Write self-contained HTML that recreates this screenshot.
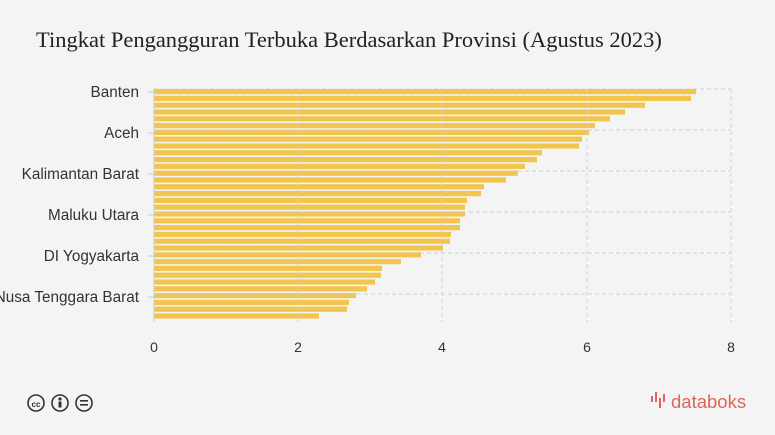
<!DOCTYPE html>
<html><head><meta charset="utf-8"><style>
body{margin:0;background:#f4f4f4;}
svg{display:block}
</style></head><body>
<svg width="775" height="435" xmlns="http://www.w3.org/2000/svg">
<rect width="775" height="435" fill="#f4f4f4"/>
<text x="36" y="47" font-family="Liberation Serif, serif" font-size="22.5" fill="#222">Tingkat Pengangguran Terbuka Berdasarkan Provinsi (Agustus 2023)</text>
<g fill="#f2c54f">
<rect x="154" y="89" width="542" height="5.2"/>
<rect x="154" y="95.8" width="537" height="5.2"/>
<rect x="154" y="102.6" width="491" height="5.2"/>
<rect x="154" y="109.4" width="471" height="5.2"/>
<rect x="154" y="116.2" width="456" height="5.2"/>
<rect x="154" y="123" width="441" height="5.2"/>
<rect x="154" y="129.8" width="435" height="5.2"/>
<rect x="154" y="136.6" width="428" height="5.2"/>
<rect x="154" y="143.4" width="425" height="5.2"/>
<rect x="154" y="150.2" width="388" height="5.2"/>
<rect x="154" y="157" width="383" height="5.2"/>
<rect x="154" y="163.8" width="371" height="5.2"/>
<rect x="154" y="170.6" width="364" height="5.2"/>
<rect x="154" y="177.4" width="352" height="5.2"/>
<rect x="154" y="184.2" width="330" height="5.2"/>
<rect x="154" y="191" width="327" height="5.2"/>
<rect x="154" y="197.8" width="313" height="5.2"/>
<rect x="154" y="204.6" width="311" height="5.2"/>
<rect x="154" y="211.4" width="311" height="5.2"/>
<rect x="154" y="218.2" width="306" height="5.2"/>
<rect x="154" y="225" width="306" height="5.2"/>
<rect x="154" y="231.8" width="297" height="5.2"/>
<rect x="154" y="238.6" width="296" height="5.2"/>
<rect x="154" y="245.4" width="289" height="5.2"/>
<rect x="154" y="252.2" width="267" height="5.2"/>
<rect x="154" y="259" width="247" height="5.2"/>
<rect x="154" y="265.8" width="228" height="5.2"/>
<rect x="154" y="272.6" width="227" height="5.2"/>
<rect x="154" y="279.4" width="221" height="5.2"/>
<rect x="154" y="286.2" width="213" height="5.2"/>
<rect x="154" y="293" width="202" height="5.2"/>
<rect x="154" y="299.8" width="195" height="5.2"/>
<rect x="154" y="306.6" width="193" height="5.2"/>
<rect x="154" y="313.4" width="165" height="5.2"/>
</g>
<g stroke="#d0d0d0" stroke-width="1.2" stroke-dasharray="4,3" fill="none" opacity="0.8">
<line x1="154" y1="89" x2="731" y2="89"/><line x1="154" y1="130" x2="731" y2="130"/>
<line x1="154" y1="171" x2="731" y2="171"/><line x1="154" y1="212" x2="731" y2="212"/>
<line x1="154" y1="253" x2="731" y2="253"/><line x1="154" y1="294" x2="731" y2="294"/>
<line x1="298" y1="89" x2="298" y2="322"/><line x1="442" y1="89" x2="442" y2="322"/>
<line x1="587" y1="89" x2="587" y2="322"/><line x1="731" y1="89" x2="731" y2="322"/>
</g>
<line x1="154" y1="89" x2="154" y2="322" stroke="#ccc"/>
<g stroke="#ccc"><line x1="148" y1="92" x2="154" y2="92"/><line x1="148" y1="133" x2="154" y2="133"/><line x1="148" y1="174" x2="154" y2="174"/><line x1="148" y1="215" x2="154" y2="215"/><line x1="148" y1="256" x2="154" y2="256"/><line x1="148" y1="297" x2="154" y2="297"/></g>
<g font-family="Liberation Sans, sans-serif" font-size="15.3" fill="#333" text-anchor="end">
<text x="139" y="97">Banten</text><text x="139" y="138">Aceh</text>
<text x="139" y="179">Kalimantan Barat</text><text x="139" y="220">Maluku Utara</text>
<text x="139" y="261">DI Yogyakarta</text><text x="139" y="302">Nusa Tenggara Barat</text>
</g>
<g font-family="Liberation Sans, sans-serif" font-size="14" fill="#333" text-anchor="middle">
<text x="154" y="352">0</text><text x="298" y="352">2</text><text x="442" y="352">4</text><text x="587" y="352">6</text><text x="731" y="352">8</text>
</g>
<g fill="none" stroke="#333" stroke-width="1.6">
<circle cx="36" cy="403" r="8"/><circle cx="60" cy="403" r="8"/><circle cx="84" cy="403" r="8"/>
</g>
<text x="36" y="407" font-family="Liberation Sans, sans-serif" font-size="8" font-weight="bold" text-anchor="middle" fill="#333">cc</text>
<circle cx="60" cy="399" r="1.6" fill="#333"/><rect x="58.5" y="401.5" width="3" height="6" fill="#333"/>
<rect x="80" y="400" width="8" height="1.6" fill="#333"/><rect x="80" y="404" width="8" height="1.6" fill="#333"/>
<g fill="#e0645a"><rect x="651" y="396" width="2" height="6"/><rect x="655" y="392" width="2" height="10"/><rect x="659" y="398" width="2" height="10"/><rect x="663" y="394" width="2" height="8"/></g>
<text x="671" y="408" font-family="Liberation Sans, sans-serif" font-size="18.5" fill="#e0645a">databoks</text>
</svg>
</body></html>
